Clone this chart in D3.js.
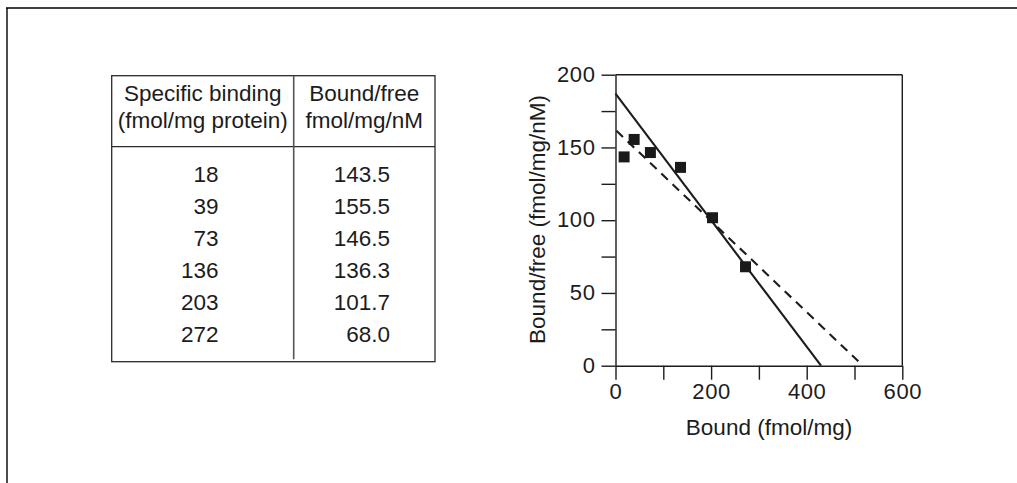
<!DOCTYPE html>
<html>
<head>
<meta charset="utf-8">
<script src="https://cdn.jsdelivr.net/npm/d3@7"></script>
<style>
  html, body { margin: 0; padding: 0; background: #fff; }
  svg { display: block; }
  text { font-family: "Liberation Sans", Arial, Helvetica, sans-serif; fill: #1c1c1c; }
</style>
</head>
<body>
<svg id="chart" width="1017" height="483"></svg>
<script>
// ---------- data ----------
const tableHeaders = [["Specific binding", "(fmol/mg protein)"], ["Bound/free", "fmol/mg/nM"]];
const boundValues = [18, 39, 73, 136, 203, 272];
const boundFreeValues = [143.5, 155.5, 146.5, 136.3, 101.7, 68.0];
const boundFreeLabels = ["143.5", "155.5", "146.5", "136.3", "101.7", "68.0"];
const solidLine = [[0, 187], [430, 0]];
const dashedLine = [[2, 161.5], [508, 3]];
const xTicks = [0, 100, 200, 300, 400, 500, 600];
const xTickLabels = [0, 200, 400, 600];
const yTicks = [0, 25, 50, 75, 100, 125, 150, 175, 200];
const yTickLabels = [0, 50, 100, 150, 200];
const xTitle = "Bound (fmol/mg)";
const yTitle = "Bound/free (fmol/mg/nM)";

// ---------- layout ----------
const svg = d3.select("#chart");
const ink = "#1c1c1c";

// outer frame (top and left lines)
svg.append("line").attr("x1", 6).attr("x2", 1017).attr("y1", 8).attr("y2", 8)
  .attr("stroke", "#000").attr("stroke-width", 1.4);
svg.append("line").attr("x1", 7).attr("x2", 7).attr("y1", 8).attr("y2", 483)
  .attr("stroke", "#000").attr("stroke-width", 1.4);

// ---------- table ----------
const tb = { left: 111.7, right: 435, top: 75.7, bottom: 361.7, div: 293.7, headLine: 146.7 };
const tg = svg.append("g");
tg.append("rect").attr("x", tb.left).attr("y", tb.top)
  .attr("width", tb.right - tb.left).attr("height", tb.bottom - tb.top)
  .attr("fill", "none").attr("stroke", "#2a2a2a").attr("stroke-width", 1.3);
tg.append("line").attr("x1", tb.left).attr("x2", tb.right).attr("y1", tb.headLine).attr("y2", tb.headLine)
  .attr("stroke", "#2a2a2a").attr("stroke-width", 1.3);
tg.append("line").attr("x1", tb.div).attr("x2", tb.div).attr("y1", tb.top).attr("y2", tb.bottom - 2.5)
  .attr("stroke", "#555").attr("stroke-width", 1.6);

const colCenters = [(tb.left + tb.div) / 2, (tb.div + tb.right) / 2];
const headBase = [101, 128];
tableHeaders.forEach((lines, c) => {
  lines.forEach((s, r) => {
    tg.append("text").attr("x", colCenters[c]).attr("y", headBase[r])
      .attr("text-anchor", "middle").attr("font-size", 22.5).text(s);
  });
});
const rowY = d3.scaleLinear().domain([0, 5]).range([182, 341.7]);
boundValues.forEach((v, i) => {
  tg.append("text").attr("x", 218.5).attr("y", rowY(i))
    .attr("text-anchor", "end").attr("font-size", 22.5).text(v);
});
boundFreeLabels.forEach((v, i) => {
  tg.append("text").attr("x", 390).attr("y", rowY(i))
    .attr("text-anchor", "end").attr("font-size", 22.5).text(v);
});

// ---------- plot ----------
const x = d3.scaleLinear().domain([0, 600]).range([615.5, 902.3]);
const y = d3.scaleLinear().domain([0, 200]).range([365.7, 74.7]);

const pg = svg.append("g");

// top and right borders
pg.append("line").attr("x1", x(0)).attr("x2", x(600)).attr("y1", y(200)).attr("y2", y(200))
  .attr("stroke", ink).attr("stroke-width", 1.4);
pg.append("line").attr("x1", x(600)).attr("x2", x(600)).attr("y1", y(200)).attr("y2", y(0))
  .attr("stroke", ink).attr("stroke-width", 1.4);

const xAxis = pg.append("g").attr("transform", `translate(0,${y(0)})`)
  .call(d3.axisBottom(x).tickValues(xTicks).tickSize(14).tickSizeOuter(0)
    .tickFormat(d => xTickLabels.includes(d) ? d : ""));
const yAxis = pg.append("g").attr("transform", `translate(${x(0)},0)`)
  .call(d3.axisLeft(y).tickValues(yTicks).tickSize(14).tickSizeOuter(0)
    .tickFormat(d => yTickLabels.includes(d) ? d : ""));

[xAxis, yAxis].forEach(a => {
  a.select(".domain").attr("stroke", ink).attr("stroke-width", 1.4);
  a.selectAll(".tick line").attr("stroke", ink).attr("stroke-width", 1.4);
  a.selectAll(".tick text").attr("font-size", 22).attr("fill", ink)
    .attr("font-family", '"Liberation Sans", Arial, sans-serif')
    .style("letter-spacing", "0.6px");
});
xAxis.selectAll(".tick text").attr("y", 0).attr("dy", 0).attr("transform", "translate(0,399.5)")
  .attr("transform", null).attr("y", 399.5 - y(0));
yAxis.selectAll(".tick text").attr("x", -20).attr("dy", "0.30em");

// fitted lines
const line = d3.line().x(d => x(d[0])).y(d => y(d[1]));
pg.append("path").datum(solidLine).attr("d", line)
  .attr("fill", "none").attr("stroke", ink).attr("stroke-width", 2.1);
pg.append("path").datum(dashedLine).attr("d", line)
  .attr("fill", "none").attr("stroke", ink).attr("stroke-width", 2.1)
  .attr("stroke-dasharray", "9,6.5");

// data points (squares)
const sq = 11;
pg.selectAll("rect.pt").data(boundValues.map((b, i) => [b, boundFreeValues[i]]))
  .enter().append("rect").attr("class", "pt")
  .attr("x", d => x(d[0]) - sq / 2).attr("y", d => y(d[1]) - sq / 2)
  .attr("width", sq).attr("height", sq).attr("fill", "#1a1a1a");

// axis titles
pg.append("text").attr("x", 769).attr("y", 435).attr("text-anchor", "middle")
  .attr("font-size", 22.5).text(xTitle);
pg.append("text").attr("transform", `translate(545,219.5) rotate(-90)`)
  .attr("text-anchor", "middle").attr("font-size", 22.5).text(yTitle);
</script>
</body>
</html>
